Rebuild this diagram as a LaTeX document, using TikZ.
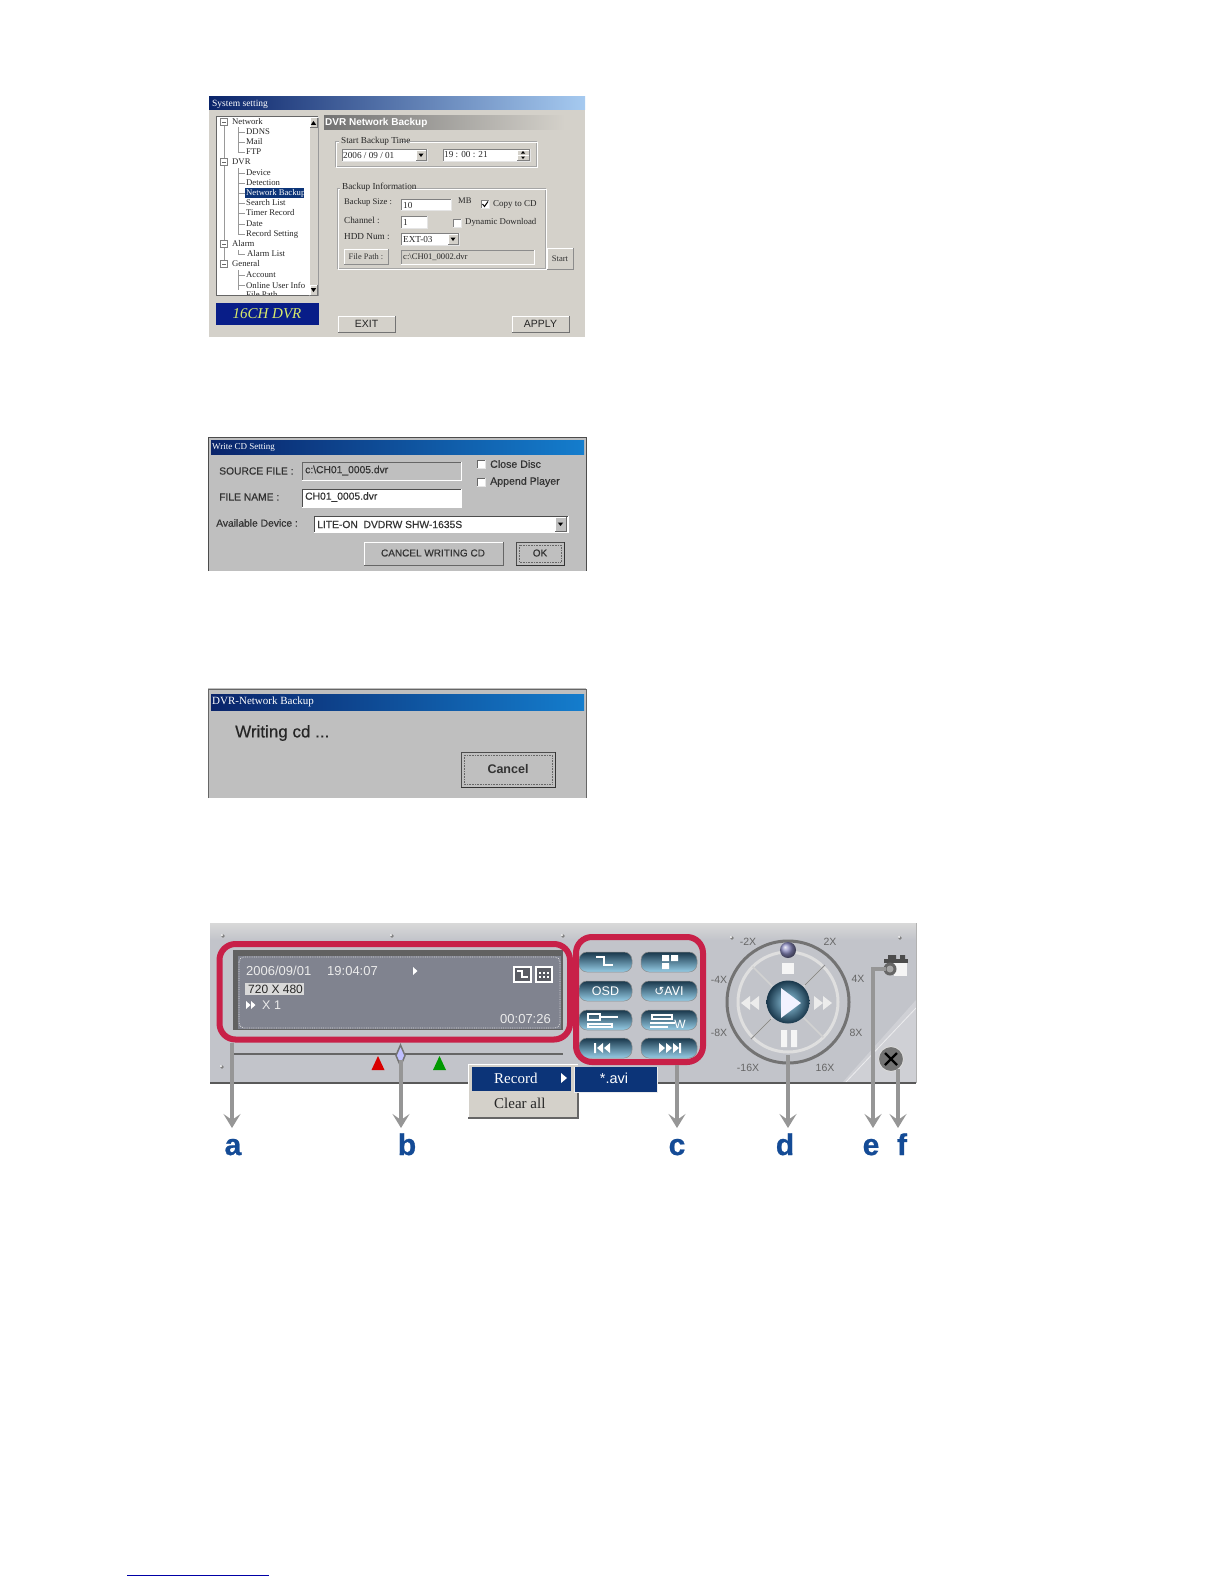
\documentclass[tikz,border=0pt]{standalone}
\usepackage{fontspec}
\setmainfont{Liberation Sans}
\newfontfamily\srf{Liberation Serif}
\newfontfamily\sfat[FakeBold=0.35]{Liberation Sans}
\newfontfamily\sheavy[FakeBold=0.8]{Liberation Sans Bold}
\newfontfamily\djv{DejaVu Sans}
\usetikzlibrary{arrows.meta,calc}
\definecolor{dlgA}{RGB}{212,209,202}
\definecolor{dlgB}{RGB}{191,191,191}
\definecolor{navy}{RGB}{10,36,106}
\definecolor{tbB}{RGB}{166,202,240}
\definecolor{tbC}{RGB}{20,125,205}
\definecolor{selb}{RGB}{12,52,120}
\definecolor{redl}{RGB}{200,32,72}
\definecolor{lcd}{RGB}{128,131,143}
\definecolor{pan}{RGB}{194,196,202}
\definecolor{arr}{RGB}{150,150,150}
\definecolor{lbl}{RGB}{20,75,150}
\definecolor{knob}{RGB}{150,205,230}
\definecolor{knobd}{RGB}{25,55,75}
\newcommand\fs[1]{\fontsize{#1}{#1}\selectfont}
% bevel: x1 y1 x2 y2 fill top-left bottom-right
\newcommand\bvl[7]{\fill[#5] (#1,#2) rectangle (#3,#4);
 \draw[#6,line width=1] (#1,#4) -- (#1,#2) -- (#3,#2);
 \draw[#7,line width=1] (#3,#2) -- (#3,#4) -- (#1,#4);}
\tikzset{
 x=1pt,y=-1pt,
 lab/.style={inner sep=0,anchor=west,text=black!85},
 treetx/.style={lab,font=\srf\fs{8.7}},
 sertx/.style={lab,font=\srf\fs{9.2}},
 sanstx/.style={lab,font=\sfat\fs{10.3},text=black!80},
 lcdtx/.style={lab,font=\fs{13},text=white!92!black},
 rate/.style={inner sep=0,font=\fs{10.5},text=black!60},
 ctxt/.style={inner sep=0,font=\srf\fs{15}},
 tag/.style={inner sep=0,anchor=base,font=\sheavy\fs{30},text=lbl},
 callout/.style={draw=arr,line width=3.4,-{Stealth[length=14pt,width=17pt,inset=6pt]}},
 redframe/.style={draw=redl,line width=6,rounded corners=16},
 pill/.style={rounded corners=8,top color=knobd,bottom color=knob,draw=black!45,line width=0.5},
 glyph/.style={inner sep=0,font=\bfseries\fs{12},text=white},
}
\begin{document}
\begin{tikzpicture}
\useasboundingbox (0,0) rectangle (1224,1584);
\fill[white] (0,0) rectangle (1224,1584);

%% ---------- Dialog 1
\fill[dlgA] (209,97) rectangle (585,337);
\shade[left color=navy,right color=tbB] (209,97) rectangle (585,110);
\node[lab,font=\srf\fs{9.5},text=white] (d1title) at (212,104) {System setting};
\bvl{216}{117}{318}{295}{white}{black!60}{black!15}
\bvl{309}{118}{318}{295}{dlgA}{white}{black!40}
\bvl{310}{118}{317}{128}{dlgA}{white}{black!55}
\bvl{310}{285}{317}{295}{dlgA}{white}{black!55}
\fill (313.5,121) -- (310.8,125) -- (316.2,125) -- cycle;
\fill (313.5,292) -- (310.8,288) -- (316.2,288) -- cycle;
% tree lines
\draw[black!40,line width=0.5] (224,122) -- (224,264);
\foreach \yy in {132,142,152,173,183,193,203,213,224,234,254,275,285}
  \draw[black!40,line width=0.5] (238,\yy) -- (245,\yy);
\foreach \yy in {122,162,244,264}{
  \fill[white] (220.5,\yy-3.5) rectangle (227.5,\yy+3.5);
  \draw[black!50,line width=0.5] (220.5,\yy-3.5) rectangle (227.5,\yy+3.5);
  \draw[black!60,line width=0.5] (222,\yy) -- (226,\yy);}
\draw[black!40,line width=0.5] (238,127) -- (238,152) (238,168) -- (238,234) (238,250) -- (238,254) (238,270) -- (238,290);
\fill[selb] (245,188) rectangle (304,198);
\node[treetx] (tn1) at (232,122) {Network};
\node[treetx] (tn2) at (246,132) {DDNS};
\node[treetx] (tn3) at (246,142) {Mail};
\node[treetx] (tn4) at (246,152) {FTP};
\node[treetx] (tn5) at (232,162) {DVR};
\node[treetx] (tn6) at (246,173) {Device};
\node[treetx] (tn7) at (246,183) {Detection};
\node[treetx,text=white] (tn8) at (246,193) {Network Backup};
\node[treetx] (tn9) at (246,203) {Search List};
\node[treetx] (tn10) at (246,213) {Timer Record};
\node[treetx] (tn11) at (246,224) {Date};
\node[treetx] (tn12) at (246,234) {Record Setting};
\node[treetx] (tn13) at (232,244) {Alarm};
\node[treetx] (tn14) at (247,254) {Alarm List};
\node[treetx] (tn15) at (232,264) {General};
\node[treetx] (tn16) at (246,275) {Account};
\node[treetx] (tn17) at (246,285) {Online User Info};
\begin{scope}
\clip (216,287) rectangle (309,295);
\node[treetx] (tn18) at (246,295) {File Path};
\end{scope}
\draw[black!60,line width=1] (216,295) -- (309,295);
% logo
\fill[navy!80!blue] (216,303) rectangle (319,325);
\node[inner sep=0,font=\srf\itshape\fs{15},text=yellow!75!green!60!white] (logo) at (267,314) {16CH DVR};
% header
\shade[left color=black!55,right color=dlgA] (324,116) rectangle (565,130);
\node[lab,font=\bfseries\fs{10},text=white] (hdr) at (325,123) {DVR Network Backup};
% group 1
\draw[black!35,line width=0.6] (335,141) rectangle (536,166);
\draw[white,line width=0.6] (336,142) rectangle (537,167);
\fill[dlgA] (339,137) rectangle (401,146);
\node[sertx] (g1) at (341,141) {Start Backup Time};
\bvl{342}{149}{427}{161}{white}{black!50}{black!10}
\node[sertx] (date) at (343,155) {2006 / 09 / 01};
\bvl{416}{150}{426}{160}{dlgA}{white}{black!50}
\fill (418.5,153.5) -- (423.5,153.5) -- (421,157) -- cycle;
\bvl{443}{149}{530}{161}{white}{black!50}{black!10}
\node[sertx] (time) at (444,155) {19 : 00 : 21};
\bvl{517}{150}{529}{155}{dlgA}{white}{black!50}
\bvl{517}{155}{529}{160}{dlgA}{white}{black!50}
\fill (523,151) -- (525,153.5) -- (521,153.5) -- cycle;
\fill (523,159) -- (525,156.5) -- (521,156.5) -- cycle;
% group 2
\draw[black!35,line width=0.6] (337,188) rectangle (545,268);
\draw[white,line width=0.6] (338,189) rectangle (546,269);
\fill[dlgA] (340,183) rectangle (412,192);
\node[sertx] (g2) at (342,187) {Backup Information};
\node[sertx,font=\srf\fs{8.6}] (l1) at (344,202) {Backup Size :};
\bvl{401}{199}{451}{210}{white}{black!50}{black!10}
\node[sertx] (v1) at (403,205) {10};
\node[sertx,font=\srf\fs{8.6}] (mb) at (458,201) {MB};
\bvl{481}{200}{489}{208}{white}{black!50}{black!10}
\draw[black,line width=1] (482.5,204) -- (484.5,206.5) -- (488,201.5);
\node[sertx,font=\srf\fs{9}] (cp) at (493,204) {Copy to CD};
\node[sertx] (l2) at (344,220) {Channel :};
\bvl{401}{216}{427}{228}{white}{black!50}{black!10}
\node[sertx] (v2) at (403,222) {1};
\bvl{453}{219}{461}{227}{white}{black!50}{black!10}
\node[sertx,font=\srf\fs{8.8}] (dyn) at (465,222) {Dynamic Download};
\node[sertx] (l3) at (344,237) {HDD Num :};
\bvl{401}{233}{459}{245}{white}{black!50}{black!10}
\node[sertx] (v3) at (403,239) {EXT-03};
\bvl{448}{234}{458}{244}{dlgA}{white}{black!50}
\fill (450.5,237.5) -- (455.5,237.5) -- (453,241) -- cycle;
\bvl{344}{249}{388}{264}{dlgA}{white}{black!45}
\node[inner sep=0,font=\srf\fs{8.4},text=black!80] (fp) at (366,256.5) {File Path :};
\bvl{401}{250}{534}{264}{dlgA}{black!45}{white}
\node[sertx,font=\srf\fs{8.6}] (fpv) at (403,257) {c:\textbackslash CH01\_0002.dvr};
\bvl{547}{248}{573}{269}{dlgA}{white}{black!45}
\node[inner sep=0,font=\srf\fs{8.6},text=black!80] (st) at (560,258.5) {Start};
\bvl{338}{316}{395}{332}{dlgA}{white}{black!55}
\node[inner sep=0,font=\fs{10.5},text=black!85] (exit) at (366.5,324) {EXIT};
\bvl{512}{316}{569}{332}{dlgA}{white}{black!55}
\node[inner sep=0,font=\fs{10.5},text=black!85] (apply) at (540.5,324) {APPLY};

%% ---------- Dialog 2
\fill[dlgB] (208,437) rectangle (586,571);
\draw[black!70,line width=0.8] (208,571) -- (208,437) -- (586,437) -- (586,571);
\shade[left color=navy,right color=tbC] (211,440) rectangle (584,454);
\node[lab,font=\srf\fs{9},text=white] (d2title) at (212,447) {Write CD Setting};
\node[sanstx] (s1) at (219,471) {SOURCE FILE :};
\bvl{302}{462}{461}{480}{dlgB}{black!60}{white}
\node[sanstx] (s2) at (305,470.5) {c:\textbackslash CH01\_0005.dvr};
\node[sanstx] (s3) at (219,497) {FILE NAME :};
\bvl{302}{489}{461}{507}{white}{black!70}{white}
\node[sanstx] (s4) at (305,497) {CH01\_0005.dvr};
\bvl{477}{460}{485}{468}{white}{black!60}{black!10}
\node[sanstx,font=\sfat\fs{10.6}] (s5) at (490,464) {Close Disc};
\bvl{477}{478}{485}{486}{white}{black!60}{black!10}
\node[sanstx,font=\sfat\fs{10.6}] (s6) at (490,482) {Append Player};
\node[sanstx] (s7) at (216,523) {Available Device :};
\bvl{314}{516}{568}{532}{white}{black!70}{white}
\node[sanstx] (s8) at (317,524.5) {LITE-ON\ \ DVDRW SHW-1635S};
\bvl{555}{517}{566}{531}{dlgB}{white}{black!60}
\fill (557.8,522.5) -- (563.2,522.5) -- (560.5,526) -- cycle;
\bvl{364}{542}{503}{565}{dlgB}{white}{black!60}
\node[inner sep=0,font=\sfat\fs{10},text=black!80] (s9) at (433,553) {CANCEL WRITING CD};
\bvl{516}{542}{564}{565}{dlgB}{black!70}{black!80}
\draw[black!60,densely dotted,line width=0.6] (519,545) rectangle (561,562);
\node[inner sep=0,font=\sfat\fs{10},text=black!80] (s10) at (540,553) {OK};

%% ---------- Dialog 3
\fill[dlgB] (208,688) rectangle (586,798);
\draw[black!60,line width=0.8] (208,798) -- (208,689) -- (586,689) -- (586,798);
\shade[left color=navy,right color=tbC] (211,694) rectangle (584,710);
\node[lab,font=\srf\fs{11},text=white] (d3title) at (212,702) {DVR-Network Backup};
\node[lab,font=\sfat\fs{17},text=black!85] (wr) at (235,733) {Writing cd ...};
\bvl{461}{752}{555}{787}{dlgB}{black!70}{black!80}
\draw[black!60,densely dotted,line width=0.6] (464,755) rectangle (552,784);
\node[inner sep=0,font=\bfseries\fs{12.5},text=black!80] (cn) at (508,769) {Cancel};

%% ---------- Player panel
\shade[top color=black!15,bottom color=pan] (210,923) rectangle (916,940);
\fill[pan] (210,940) rectangle (916,1083);
\fill[white,opacity=0.22] (916,1000) -- (916,1083) -- (842,1083) -- cycle;
\draw[white,opacity=0.6,line width=0.8] (916,1008) -- (845,1083);
\draw[black!65,line width=2] (210,1083) -- (916,1083);
\draw[black!30,line width=1] (916,923) -- (916,1083);
\foreach \sx/\sy in {223/936,392/936,563/936,222/1067,732/938,900/938}
  \fill[black!50] (\sx,\sy) circle (1.8);
\foreach \sx/\sy in {222/935,391/935,562/935,221/1066,731/937,899/937}
  \fill[white] (\sx,\sy) circle (1);
% LCD
\fill[black!62] (233,950) rectangle (563,1030);
\fill[lcd] (238,956) rectangle (561,1029);
\draw[white!85!black,densely dotted,line width=0.8,rounded corners=5] (239,957) rectangle (560,1028);
\node[lcdtx] (lc1) at (246,971) {2006/09/01};
\node[lcdtx] (lc2) at (327,971) {19:04:07};
\fill[white] (413,967) -- (417.5,971) -- (413,975) -- cycle;
\fill[white!85!black] (245,983) rectangle (304,995);
\node[lcdtx,font=\fs{12},text=black!85] (lc3) at (248,989) {720 X 480};
\fill[white] (246,1001) -- (250.5,1005) -- (246,1009) -- cycle;
\fill[white] (251,1001) -- (255.5,1005) -- (251,1009) -- cycle;
\node[lcdtx,font=\fs{12.5}] (lc4) at (262,1005) {X 1};
\node[lcdtx,anchor=east] (lc5) at (551,1019) {00:07:26};
\draw[white,line width=1.5,fill=lcd!70!black] (514,967) rectangle (531,982);
\draw[white,line width=2] (517,971) -- (522,971) -- (522,977) -- (528,977);
\draw[white,line width=1.5,fill=lcd!70!black] (536,967) rectangle (552,982);
\foreach \cx in {540,544,548}\foreach \cy in {973,977}\fill[white] (\cx-1,\cy-1) rectangle (\cx+1,\cy+1);
% Slider
\draw[black!60,line width=1.5] (232,1054) -- (563,1054);
\fill[red!85!black] (378,1056) -- (384.5,1070) -- (371.5,1070) -- cycle;
\fill[green!60!black] (439.5,1056) -- (446,1070) -- (433,1070) -- cycle;
\draw[black!55,fill=white!75!blue,line width=1.5] (400.5,1045) -- (405,1055.5) -- (400.5,1066) -- (396,1055.5) -- cycle;
% pills
\foreach \xa/\xb/\yy in {579/632/962,641/697/962,579/632/991,641/697/991,579/632/1020,641/697/1020,579/632/1048,641/697/1048}
  \path[pill] (\xa,\yy-10) rectangle (\xb,\yy+10);
\draw[white,line width=2] (596,957) -- (604,957) -- (604,965) -- (613,965);
\fill[white] (662,955) rectangle (669,961) (671,955) rectangle (678,961) (662,963) rectangle (669,969);
\node[inner sep=0,font=\fs{12.5},text=white] (b3) at (605.5,991) {OSD};
\node[inner sep=0,font=\djv\fs{12},text=white] (b4) at (669,991) {↺AVI};
\draw[white,line width=1.2] (588,1014) rectangle (600,1020) (600,1017) -- (618,1017);
\draw[white,line width=1.2] (588,1024) rectangle (612,1027);
\draw[white,line width=1.2] (652,1015) rectangle (672,1019) (650,1023) -- (675,1023) (650,1027) -- (668,1027);
\node[inner sep=0,font=\fs{12},text=white] (b6) at (680,1024) {W};
\fill[white] (594,1043) rectangle (596,1053) (603,1043) -- (597,1048) -- (603,1053) -- cycle (610,1043) -- (604,1048) -- (610,1053) -- cycle;
\fill[white] (659,1043) -- (665,1048) -- (659,1053) -- cycle (666,1043) -- (672,1048) -- (666,1053) -- cycle (673,1043) -- (679,1048) -- (673,1053) -- cycle (679,1043) rectangle (681,1053);
% red frames
\draw[redframe] (219.5,944) rectangle (570,1039.5);
\draw[redframe] (576,937) rectangle (703,1062);
% dial
\draw[black!55,line width=3] (788,1002) circle (61);
\draw[white!75!gray,line width=3] (788,1002) circle (50);
\foreach \ang in {45,135,225,315}
  \draw[white!65!gray,line width=1.5] ($(788,1002)+(\ang:22)$) -- ($(788,1002)+(\ang:50)$);
\draw[black!45,line width=1] (805,985) -- (825,965);
\draw[black!45,line width=1] (771,1019) -- (751,1039);
\fill[white!92!gray] (782,963) rectangle (794,974);
\fill[white!92!gray] (781,1030) rectangle (787,1047) (791,1030) rectangle (797,1047);
\fill[white!85!gray] (741,1003) -- (750,996) -- (750,1010) -- cycle (750,1003) -- (759,996) -- (759,1010) -- cycle;
\fill[white!85!gray] (823,996) -- (832,1003) -- (823,1010) -- cycle (814,996) -- (823,1003) -- (814,1010) -- cycle;
\shade[inner color=knob,outer color=knobd] (788,1002) circle (21.5);
\fill[white!95!blue] (781,988) -- (801,1003) -- (781,1018) -- cycle;
\shade[ball color=blue!30!gray!70!white] (788,950) circle (8);
\node[rate] (r1) at (748,942) {-2X};
\node[rate] (r2) at (830,942) {2X};
\node[rate] (r3) at (719,980) {-4X};
\node[rate] (r4) at (858,979) {4X};
\node[rate] (r5) at (719,1033) {-8X};
\node[rate] (r6) at (856,1033) {8X};
\node[rate] (r7) at (748,1068) {-16X};
\node[rate] (r8) at (825,1068) {16X};
% camera
\fill[white!92!gray] (894,961) rectangle (907,976);
\fill[black!70] (884,959) rectangle (908,963);
\fill[black!70] (888,955) rectangle (896,960) (900,955) rectangle (905,959);
\fill[black!60] (890,969) circle (6.5);
\node[circle,inner sep=0,minimum size=7pt,fill=black!35] (lens) at (890,969) {};
% close button
\node[circle,inner sep=0,minimum size=25pt,fill=black!55,draw=white!70!gray,line width=1] (closeb) at (891,1059) {};
\draw[black,line width=2.2] (885,1053) -- (897,1065) (897,1053) -- (885,1065);
% context menu
\fill[dlgA] (468,1064) rectangle (578,1118);
\draw[white,line width=1] (468,1118) -- (468,1064) -- (578,1064);
\draw[black!60,line width=1.5] (468,1118) -- (578,1118) -- (578,1092);
\fill[selb] (472,1067) rectangle (571,1091);
\node[ctxt,anchor=west,text=white] (m1) at (494,1078) {Record};
\fill[white] (561,1073) -- (567,1078) -- (561,1083) -- cycle;
\node[ctxt,anchor=west,text=black!85] (m2) at (494,1103) {Clear all};
\fill[selb] (574,1067) rectangle (657,1092);
\draw[white!85!gray,line width=1] (574,1092) -- (574,1067) (574,1092) -- (657,1092) -- (657,1067);
\node[inner sep=0,font=\fs{14.5},text=white] (m3) at (614,1078) {*.avi};
%% callouts
\node[tag] (ta) at (233,1155) {a};
\node[tag] (tb) at (407,1155) {b};
\node[tag] (tc) at (677,1155) {c};
\node[tag] (td) at (785,1155) {d};
\node[tag] (te) at (871,1155) {e};
\node[tag] (tf) at (902,1155) {f};
\coordinate (fa) at (232,1043); \coordinate (ea) at (232,1128);
\coordinate (fb) at (401,1060); \coordinate (eb) at (401,1128);
\coordinate (fc) at (677,1065); \coordinate (ec) at (677,1128);
\coordinate (fd) at (788,1055); \coordinate (ed) at (788,1128);
\coordinate (ee) at (873,1128);
\coordinate (ff) at (898,1069); \coordinate (ef) at (898,1128);
\draw[callout] (fa) -- (ea);
\draw[callout] (fb) -- (eb);
\draw[callout] (fc) -- (ec);
\draw[callout] (fd) -- (ed);
\draw[callout] (lens.west) -| (ee);
\draw[callout] (ff) -- (ef);
%% bottom rule
\coordinate (ru1) at (127,1575); \coordinate (ru2) at (269,1575);
\draw[blue!65!black,line width=1] (ru1) -- (ru2);
\end{tikzpicture}
\end{document}
